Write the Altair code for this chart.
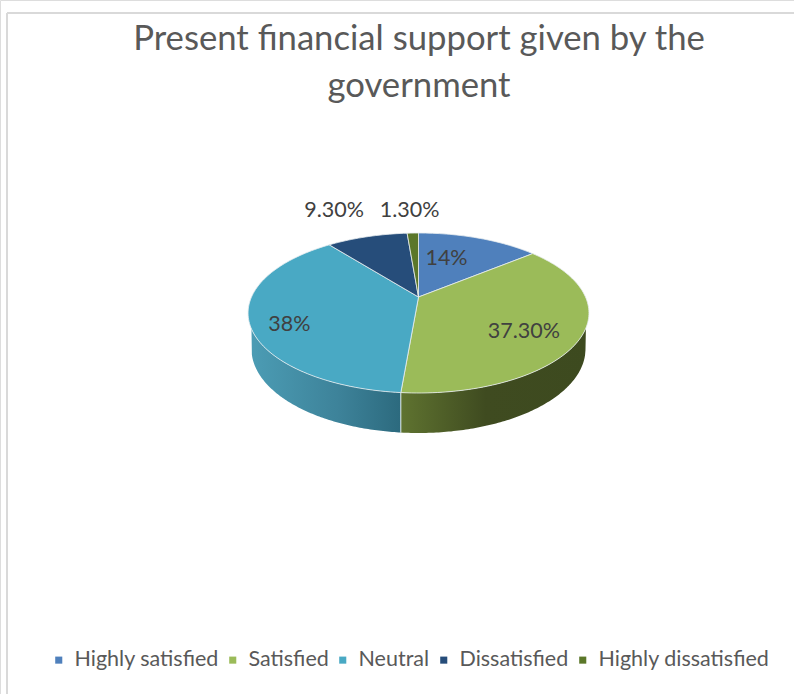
import math
import altair as alt
import pandas as pd

categories = ["Highly satisfied", "Satisfied", "Neutral", "Dissatisfied", "Highly dissatisfied"]
shares = [14.0, 37.3, 38.0, 9.3, 1.3]
share_labels = ["14%", "37.30%", "38%", "9.30%", "1.30%"]
colors = ["#4f80bc", "#9bbb59", "#49a9c4", "#264d7a", "#5b7729"]

# Label placement relative to each slice: fraction of the radius, and turn in degrees
label_radius = [0.58, 0.714, 0.796, 1.58, 1.445]
label_turn = [-6.5, 8.3, -8.3, -2.9, -0.4]

# Tilted disc: a perspective projection of the unit circle
APEX_X, APEX_Y = 418.5, 297.0
SPREAD_X, SPREAD_Y, TILT = 167.0, 76.8, 0.2
FLOOR_Y, FLOOR_RX, FLOOR_RY = 349.0, 167.0, 84.0


def project(angle, radius=1.0):
    px = radius * math.sin(angle)
    py = radius * math.cos(angle)
    depth = 1 + TILT * py
    return APEX_X + SPREAD_X * px / depth, APEX_Y - SPREAD_Y * py / depth


def floor_y(x, rim_y):
    dx = (x - APEX_X) / FLOOR_RX
    y2 = FLOOR_Y + FLOOR_RY * math.sqrt(1 - dx * dx) if abs(dx) < 1 else rim_y
    return max(rim_y, y2)


total = sum(shares)
edges = [0.0]
for s in shares:
    edges.append(edges[-1] + s / total * 2 * math.pi)

slice_rows = []
for name, start, stop in zip(categories, edges[:-1], edges[1:]):
    apex = (APEX_X, APEX_Y)
    steps = max(3, int((stop - start) * 40))
    outline = [apex] + [project(start + (stop - start) * i / steps) for i in range(steps + 1)] + [apex]
    for k, (x, y) in enumerate(outline):
        slice_rows.append({"name": name, "k": k, "x": x, "y": y})
slices_df = pd.DataFrame(slice_rows)


def wall_rows(start, stop):
    rows = []
    steps = 120
    for i in range(steps + 1):
        x, y = project(start + (stop - start) * i / steps)
        rows.append({"x": x, "y": y, "y2": floor_y(x, y)})
    return pd.DataFrame(rows)


# The front wall runs from the rim's widest points down around the near side
rim_turn = math.pi / 2 + math.asin(TILT)
green_wall = wall_rows(rim_turn, edges[2])
teal_wall = wall_rows(edges[2], 2 * math.pi - rim_turn)

seam_x, seam_y = project(edges[2])
seam_df = pd.DataFrame({"x": [seam_x], "y": [seam_y], "y2": [floor_y(seam_x, seam_y)]})

label_rows = []
for i, text in enumerate(share_labels):
    mid = (edges[i] + edges[i + 1]) / 2 + math.radians(label_turn[i])
    x, y = project(mid, label_radius[i])
    label_rows.append({"label": text, "x": x, "y": y})
labels_df = pd.DataFrame(label_rows)

x_scale = alt.Scale(domain=[0, 794], range=[0, 794], nice=False, zero=False)
y_scale = alt.Scale(domain=[0, 694], range=[0, 694], nice=False, zero=False)
ex = alt.X("x:Q", scale=x_scale, axis=None)
ey = alt.Y("y:Q", scale=y_scale, axis=None)
FONT = "Lato"

frame_left = alt.Chart(pd.DataFrame({"x": [7], "y": [13], "y2": [694]})).mark_rule(
    color="#d9d9d9", strokeWidth=2
).encode(x=ex, y=ey, y2="y2:Q")
frame_top = alt.Chart(pd.DataFrame({"x": [7], "x2": [794], "y": [13]})).mark_rule(
    color="#d9d9d9", strokeWidth=2
).encode(x=ex, x2="x2:Q", y=ey)


def wall(df, stops):
    fill = alt.Gradient(
        gradient="linear", x1=0, x2=1, y1=0, y2=0,
        stops=[alt.GradientStop(offset=o, color=c) for o, c in stops],
    )
    return alt.Chart(df).mark_area(fill=fill, interpolate="linear").encode(x=ex, y=ey, y2="y2:Q")


green_side = wall(green_wall.iloc[::-1], [(0, "#5f7330"), (0.45, "#3f4b20"), (1, "#3d4a1f")])
teal_side = wall(teal_wall.iloc[::-1], [(0, "#4c9db5"), (0.6, "#3d8299"), (1, "#2c6a7e")])
seam = alt.Chart(seam_df).mark_rule(color="#dfe8ea", strokeWidth=1).encode(x=ex, y=ey, y2="y2:Q")

slices = alt.Chart(slices_df).mark_line(
    filled=True, stroke="#e8eef0", strokeWidth=0.8, interpolate="linear"
).encode(
    x=ex,
    y=ey,
    order="k:Q",
    color=alt.Color(
        "name:N",
        scale=alt.Scale(domain=categories, range=colors),
        sort=categories,
        legend=alt.Legend(
            title=None,
            orient="none",
            legendX=48,
            legendY=649,
            direction="horizontal",
            columns=5,
            symbolType="square",
            symbolSize=50,
            symbolStrokeWidth=0,
            labelFont=FONT,
            labelFontSize=21.5,
            labelColor="#595959",
            labelOffset=5,
            labelLimit=300,
            columnPadding=3,
        ),
    ),
)

value_labels = alt.Chart(labels_df).mark_text(
    font=FONT, fontSize=21.5, color="#404040", align="center", baseline="middle"
).encode(x=ex, y=ey, text="label:N")

chart = alt.layer(frame_left, frame_top, green_side, teal_side, seam, slices, value_labels).properties(
    width=794,
    height=694,
    padding=0,
    autosize=alt.AutoSizeParams(type="none"),
    title=alt.TitleParams(
        text=["Present financial support given by the", "government"],
        font=FONT,
        fontSize=34.7,
        fontWeight="normal",
        color="#595959",
        anchor="middle",
        frame="group",
        lineHeight=47,
        baseline="bottom",
        offset=-139,
        dx=22,
    ),
).configure_view(stroke=None).configure(background="white")

chart.save("out.html", embed_options={"renderer": "svg", "actions": False})
